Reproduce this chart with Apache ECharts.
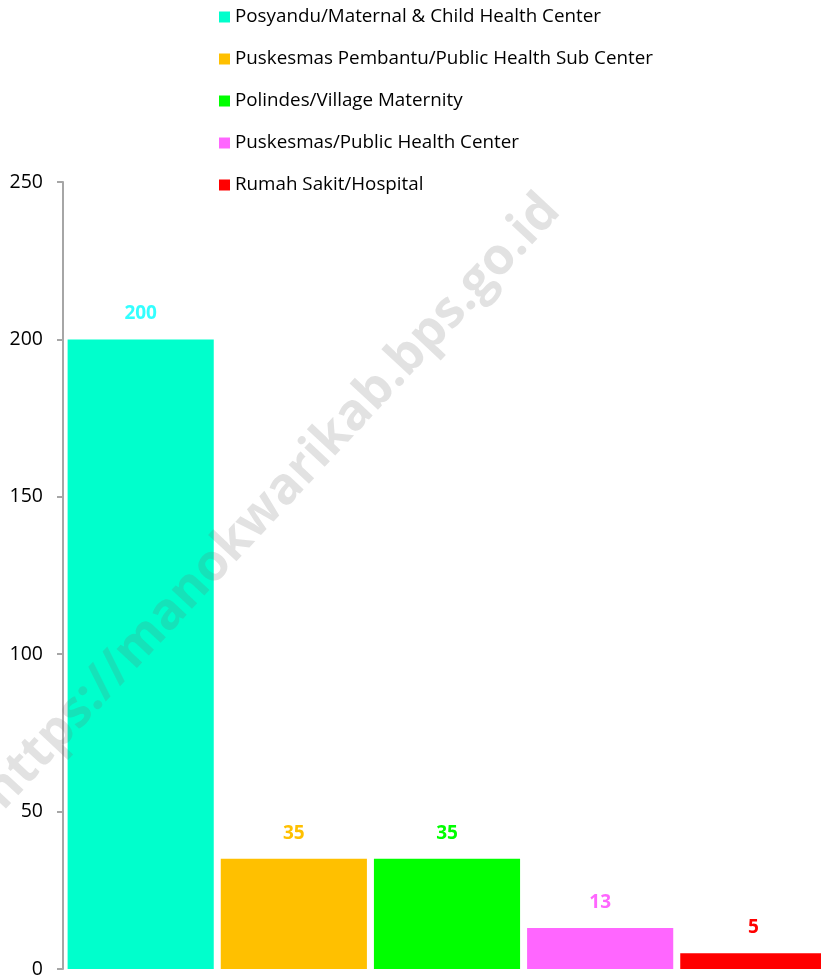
<!DOCTYPE html>
<html>
<head>
<meta charset="utf-8">
<script src="https://cdn.jsdelivr.net/npm/echarts@6/dist/echarts.min.js"></script>
<style>
  html, body { margin: 0; padding: 0; background: #fff; }
  #chart { width: 821px; height: 977px; }
</style>
</head>
<body>
<div id="chart"></div>
<script>
const seriesNames = [
  'Posyandu/Maternal & Child Health Center',
  'Puskesmas Pembantu/Public Health Sub Center',
  'Polindes/Village Maternity',
  'Puskesmas/Public Health Center',
  'Rumah Sakit/Hospital'
]
const values = [200, 35, 35, 13, 5]
const barColors = ['#00FFCC', '#FFC000', '#00FF00', '#FF66FF', '#FF0000']
const labelColors = ['#33FFFF', '#FFC000', '#00FF00', '#FF66FF', '#FF0000']
const yTicks = [0, 50, 100, 150, 200, 250]

const font = '"Open Sans", "Liberation Sans", sans-serif'
const chart = echarts.init(document.getElementById('chart'))

const series = seriesNames.map((name, i) => ({
  name: name,
  type: 'bar',
  data: [values[i]],
  itemStyle: { color: barColors[i] },
  barGap: '4.8%',
  barCategoryGap: '1.2%',
  label: {
    show: true,
    position: 'top',
    distance: 16,
    color: labelColors[i],
    fontWeight: 'bold',
    fontSize: 19,
    fontFamily: font
  }
}))

chart.setOption({
  backgroundColor: '#fff',
  animation: false,
  legend: {
    orient: 'vertical',
    left: 214,
    top: 0,
    itemWidth: 11,
    itemHeight: 11,
    itemGap: 18,
    icon: 'rect',
    data: seriesNames,
    textStyle: {
      color: '#000',
      fontSize: 18.8,
      lineHeight: 24,
      fontFamily: font
    }
  },
  grid: {
    left: 63,
    right: -10,
    top: 182,
    bottom: 8,
    outerBoundsMode: 'none'
  },
  xAxis: {
    type: 'category',
    data: [''],
    show: false
  },
  yAxis: {
    type: 'value',
    min: yTicks[0],
    max: yTicks[yTicks.length - 1],
    interval: 50,
    axisLine: { show: true, lineStyle: { color: '#A6A6A6', width: 2 } },
    axisTick: { show: true, length: 6, lineStyle: { color: '#A6A6A6', width: 2 } },
    splitLine: { show: false },
    axisLabel: {
      color: '#000',
      fontSize: 19.5,
      margin: 20,
      fontFamily: font
    }
  },
  graphic: [{
    type: 'text',
    x: 272,
    y: 502,
    rotation: 0.82,
    z: 100,
    style: {
      text: 'https://manokwarikab.bps.go.id',
      fontSize: 51,
      fontWeight: 'bold',
      fontFamily: font,
      fill: 'rgba(110,110,110,0.2)',
      align: 'center',
      verticalAlign: 'middle'
    }
  }],
  series: series
})
</script>
</body>
</html>
